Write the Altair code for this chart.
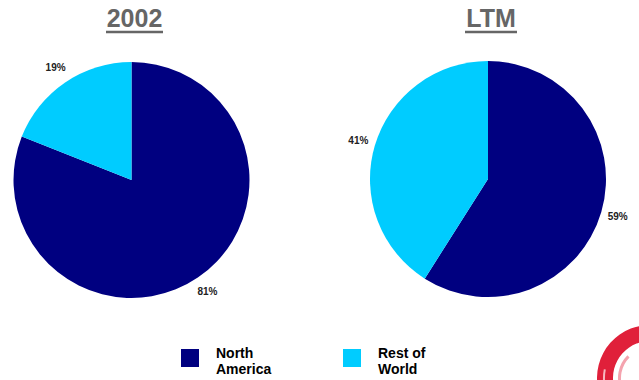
import altair as alt
import pandas as pd

# Revenue split by region, two periods
periods = ["2002", "2002", "LTM", "LTM"]
regions = ["North America", "Rest of World", "North America", "Rest of World"]
shares = [81, 19, 59, 41]

region_names = ["North America", "Rest of World"]
region_colors = ["#000080", "#00CCFF"]
panel_titles = ["2002", "LTM"]

df = pd.DataFrame({"period": periods, "region": regions, "share": shares})
df["label"] = df["share"].astype(str) + "%"
df["rank"] = df["region"].map({r: i for i, r in enumerate(region_names)})

FONT = "Liberation Sans"
centers = {"2002": (131.5, 180), "LTM": (488, 179)}
title_widths = {"2002": 57, "LTM": 52}

color = alt.Color(
    "region:N",
    scale=alt.Scale(domain=region_names, range=region_colors),
    legend=alt.Legend(
        title=None,
        orient="none",
        legendX=181,
        legendY=349,
        direction="horizontal",
        columns=2,
        symbolType="square",
        symbolSize=324,
        symbolStrokeWidth=0,
        symbolOpacity=1,
        labelFont=FONT,
        labelFontSize=14,
        labelFontWeight="bold",
        labelColor="#000000",
        labelOffset=17,
        labelBaseline="alphabetic",
        labelLimit=200,
        columnPadding=71,
        padding=0,
        labelExpr="datum.label == 'North America' ? ['North', 'America'] : ['Rest of', 'World']",
    ),
)
theta = alt.Theta("share:Q", stack=True, scale=alt.Scale(domain=[0, 100]))

layers = []
for period in panel_titles:
    cx, cy = centers[period]
    sub = alt.Chart(df).transform_filter(alt.datum.period == period)
    pie = sub.mark_arc(outerRadius=118).encode(
        theta=theta,
        color=color,
        order=alt.Order("rank:Q"),
        x=alt.value(cx),
        y=alt.value(cy),
    )
    labels = sub.mark_text(
        radius=135, font=FONT, fontSize=10, fontWeight="bold", color="#222222",
        align="center", baseline="middle",
    ).encode(
        theta=theta,
        text="label:N",
        order=alt.Order("rank:Q"),
        x=alt.value(cx),
        y=alt.value(cy),
    )
    title_df = pd.DataFrame({"t": [period]})
    title = alt.Chart(title_df).mark_text(
        font=FONT, fontSize=25, fontWeight="bold", color="#666666",
        align="center", baseline="alphabetic",
    ).encode(text="t:N", x=alt.value(cx + 3), y=alt.value(27))
    half = title_widths[period] / 2
    underline = alt.Chart(title_df).mark_rule(color="#666666", strokeWidth=2.5).encode(
        x=alt.value(cx + 3 - half), x2=alt.value(cx + 3 + half), y=alt.value(32)
    )
    layers += [pie, labels, title, underline]

# Corner logo swoosh: a thick red band with two pale streaks inside it
logo_parts = ["band", "streak1", "streak2"]
logo_df = pd.DataFrame({"part": logo_parts})
logo_specs = {
    "band": dict(innerRadius=37, outerRadius=53, theta=4.25, theta2=6.15, color="#E0203A"),
    "streak1": dict(innerRadius=29, outerRadius=32, theta=4.3, theta2=5.5, color="#F4A3AE"),
    "streak2": dict(innerRadius=45, outerRadius=47, theta=4.3, theta2=4.9, color="#F6B8C0"),
}
for part in logo_parts:
    layers.append(
        alt.Chart(logo_df)
        .transform_filter(alt.datum.part == part)
        .mark_arc(**logo_specs[part])
        .encode(x=alt.value(650), y=alt.value(378))
    )

chart = alt.layer(*layers).properties(
    width=639, height=380, autosize=alt.AutoSizeParams(type="none"), padding=0,
    background="white",
).configure_view(stroke=None)

chart.save("out.html", embed_options={"renderer": "svg", "actions": False})
